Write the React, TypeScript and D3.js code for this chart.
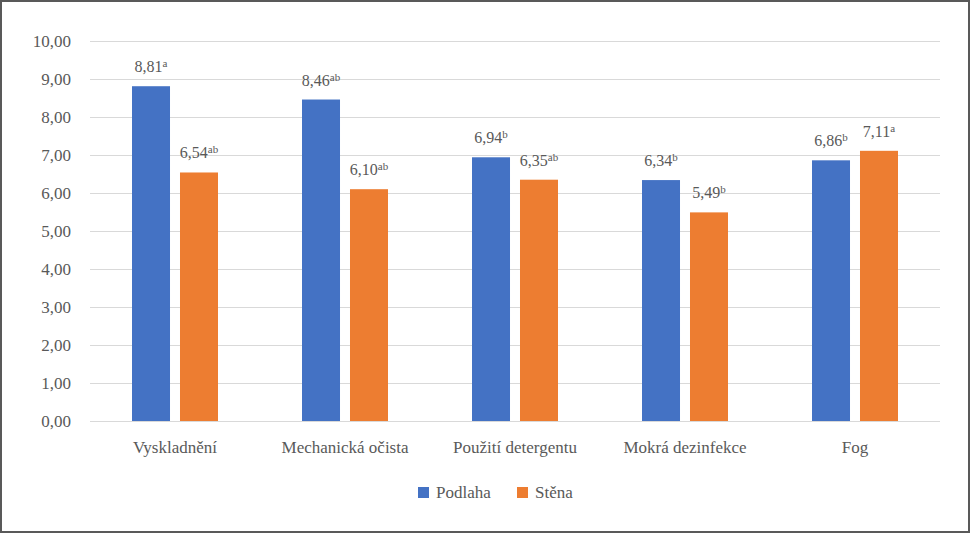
import { useEffect, useRef } from "react";
import * as d3 from "d3";

const categories = [
  "Vyskladnění",
  "Mechanická očista",
  "Použití detergentu",
  "Mokrá dezinfekce",
  "Fog",
];
const seriesNames = ["Podlaha", "Stěna"];
const podlaha = [8.81, 8.46, 6.94, 6.34, 6.86];
const stena = [6.54, 6.1, 6.35, 5.49, 7.11];
const podlahaSig = ["a", "ab", "b", "b", "b"];
const stenaSig = ["ab", "ab", "ab", "b", "a"];
const yTicks = [0, 1, 2, 3, 4, 5, 6, 7, 8, 9, 10];

const colors = ["#4472C4", "#ED7D31"];
const W = 971,
  H = 534;
const FONT =
  "'Liberation Serif', 'Noto Serif', 'DejaVu Serif', Tinos, FreeSerif, 'Times New Roman', Times, serif";
const TEXT = "#595959";

const fmt = (v: number) => v.toFixed(2).replace(".", ",");

export default function App() {
  const ref = useRef<SVGSVGElement>(null);

  useEffect(() => {
    const svg = d3.select(ref.current!);
    svg.selectAll("*").remove();

    const margin = { top: 41, right: 31, bottom: 113, left: 90 };

    const x0 = d3
      .scaleBand()
      .domain(categories)
      .range([margin.left, W - margin.right]);

    const x1 = d3
      .scaleBand()
      .domain(seriesNames)
      .range([x0.bandwidth() / 2 - 43, x0.bandwidth() / 2 + 43])
      .paddingInner(0.208);

    const y = d3
      .scaleLinear()
      .domain([0, 10])
      .range([H - margin.bottom, margin.top]);

    // outer frame
    svg
      .append("rect")
      .attr("x", 1)
      .attr("y", 1)
      .attr("width", W - 3)
      .attr("height", H - 3)
      .attr("fill", "#fff")
      .attr("stroke", "#595959")
      .attr("stroke-width", 2);

    // gridlines
    svg
      .append("g")
      .selectAll("line")
      .data(yTicks)
      .join("line")
      .attr("x1", margin.left)
      .attr("x2", W - margin.right)
      .attr("y1", (d) => y(d) + 0.5)
      .attr("y2", (d) => y(d) + 0.5)
      .attr("stroke", "#d9d9d9")
      .attr("stroke-width", 1);

    const txt = svg
      .append("g")
      .style("font-family", FONT)
      .style("font-size", "17px")
      .attr("fill", TEXT);

    // y tick labels
    txt
      .append("g")
      .selectAll("text")
      .data(yTicks)
      .join("text")
      .attr("x", 71)
      .attr("y", (d) => y(d) + 5.5)
      .attr("text-anchor", "end")
      .text((d) => fmt(d));

    const rows = categories.map((c, i) => ({
      cat: c,
      vals: [
        { s: seriesNames[0], v: podlaha[i], sig: podlahaSig[i] },
        { s: seriesNames[1], v: stena[i], sig: stenaSig[i] },
      ],
    }));

    const groups = svg
      .append("g")
      .selectAll("g")
      .data(rows)
      .join("g")
      .attr("transform", (d) => `translate(${x0(d.cat)},0)`);

    groups
      .selectAll("rect")
      .data((d) => d.vals)
      .join("rect")
      .attr("x", (d) => x1(d.s)!)
      .attr("y", (d) => y(d.v))
      .attr("width", x1.bandwidth())
      .attr("height", (d) => y(0) - y(d.v))
      .attr("fill", (_, i) => colors[i]);

    const labels = groups
      .selectAll("text")
      .data((d) => d.vals)
      .join("text")
      .attr("x", (d) => x1(d.s)! + x1.bandwidth() / 2)
      .attr("y", (d) => y(d.v) - 14)
      .attr("text-anchor", "middle")
      .style("font-family", FONT)
      .style("font-size", "16px")
      .attr("fill", TEXT);
    labels.append("tspan").text((d) => fmt(d.v));
    labels
      .append("tspan")
      .style("font-size", "11px")
      .attr("dy", -5)
      .text((d) => d.sig);

    // category labels
    txt
      .append("g")
      .selectAll("text")
      .data(categories)
      .join("text")
      .attr("x", (d) => x0(d)! + x0.bandwidth() / 2)
      .attr("y", 453)
      .attr("text-anchor", "middle")
      .text((d) => d);

    // legend
    const legendX = [418, 517];
    const legend = txt
      .append("g")
      .selectAll("g")
      .data(seriesNames)
      .join("g")
      .attr("transform", (_, i) => `translate(${legendX[i]},487)`);
    legend
      .append("rect")
      .attr("width", 11)
      .attr("height", 11)
      .attr("fill", (_, i) => colors[i]);
    legend
      .append("text")
      .attr("x", 18)
      .attr("y", 11)
      .text((d) => d);
  }, []);

  return (
    <div style={{ position: "fixed", left: 0, top: 0 }}>
      <svg ref={ref} width={W} height={H} style={{ display: "block" }} />
    </div>
  );
}
